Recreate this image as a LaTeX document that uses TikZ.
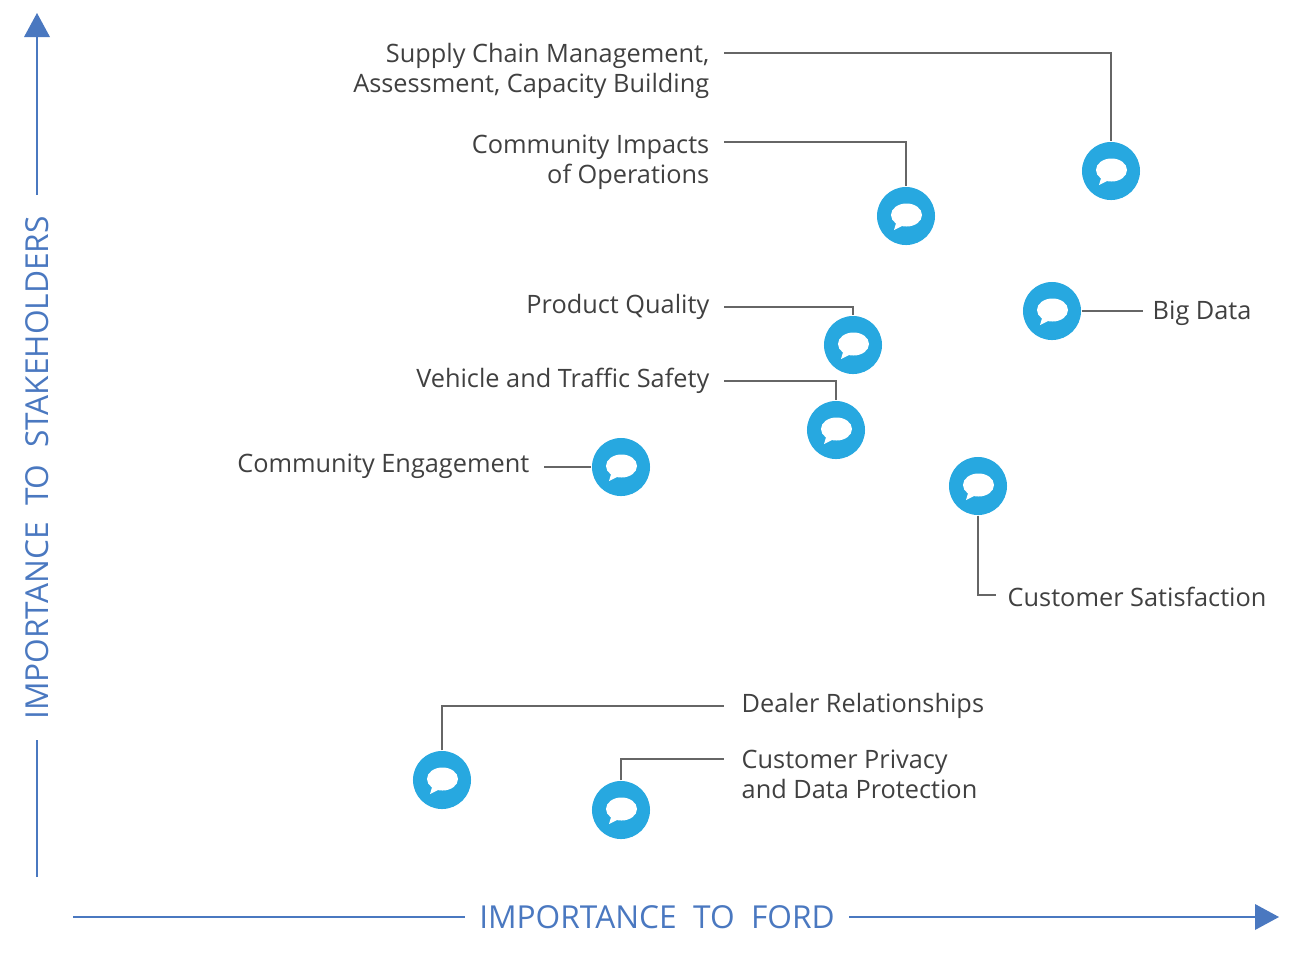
\documentclass[tikz,border=0pt]{standalone}
\usepackage{fontspec}
\setmainfont{Open Sans}
\begin{document}
\begin{tikzpicture}[x=0.01cm,y=-0.01cm,
  txt/.style={text=black!75,font=\fontsize{7.2pt}{8.5pt}\selectfont,inner sep=0pt},
  ln/.style={draw=black!60,line width=0.35pt}]
\definecolor{axc}{HTML}{4A78C0}
\definecolor{bc}{HTML}{27A8E0}
\tikzset{bub/.style={circle,fill=bc,minimum size=0.58cm,inner sep=0pt,
  path picture={\fill[white] ([xshift=0.005cm,yshift=0.01cm]path picture bounding box.center) ellipse (0.155cm and 0.115cm);
  \fill[white] ([xshift=-0.09cm,yshift=-0.04cm]path picture bounding box.center) -- ([xshift=-0.12cm,yshift=-0.14cm]path picture bounding box.center) -- ([xshift=-0.02cm,yshift=-0.09cm]path picture bounding box.center) -- cycle;}},
  ax/.style={draw=axc,line width=0.5pt}}
\useasboundingbox (0,0) rectangle (1296,960);
% axes
\coordinate (v0) at (37,877); \coordinate (v1) at (37,740); \coordinate (v2) at (37,195); \coordinate (v3) at (37,36);
\draw[ax] (v0)--(v1); \draw[ax] (v2)--(v3);
\fill[axc] (24,37)--(50,37)--(37,13)--cycle;
\node[rotate=90,text=axc,font=\fontsize{9pt}{10pt}\selectfont,inner sep=0pt] (yl) at (37,468) {IMPORTANCE\ \ TO\ \ STAKEHOLDERS};
\coordinate (h0) at (73,917); \coordinate (h1) at (465,917); \coordinate (h2) at (849,917); \coordinate (h3) at (1256,917);
\draw[ax] (h0)--(h1); \draw[ax] (h2)--(h3);
\fill[axc] (1255,904)--(1255,930)--(1279,917)--cycle;
\node[text=axc,font=\fontsize{9pt}{10pt}\selectfont,inner sep=0pt] (xl) at (657,917) {IMPORTANCE\ \ TO\ \ FORD};
% bubbles
\node[bub] (b1) at (1111,171) {};
\node[bub] (b2) at (906,216) {};
\node[bub] (b3) at (1052,311) {};
\node[bub] (b4) at (853,345) {};
\node[bub] (b5) at (836,430) {};
\node[bub] (b6) at (621,467) {};
\node[bub] (b7) at (978,486) {};
\node[bub] (b8) at (442,780) {};
\node[bub] (b9) at (621,810) {};
% labels
\node[txt,anchor=east,align=right] (t1) at (710,71) {Supply Chain Management,\\Assessment, Capacity Building};
\node[txt,anchor=east,align=right] (t2) at (710,162) {Community Impacts\\of Operations};
\node[txt,anchor=west] (t3) at (1152,313) {Big Data};
\node[txt,anchor=east] (t4) at (710,307) {Product Quality};
\node[txt,anchor=east] (t5) at (710,381) {Vehicle and Traffic Safety};
\node[txt,anchor=east] (t6) at (530,466) {Community Engagement};
\node[txt,anchor=west] (t7) at (1007,597) {Customer Satisfaction};
\node[txt,anchor=west] (t8) at (741,706) {Dealer Relationships};
\node[txt,anchor=west,align=left] (t9) at (741,774) {Customer Privacy\\and Data Protection};
% connectors
\coordinate (c1) at (724,53); \draw[ln] (c1) -| (b1.north);
\coordinate (c2) at (724,142); \draw[ln] (c2) -| (b2.north);
\coordinate (c4) at (724,307); \draw[ln] (c4) -| (b4.north);
\coordinate (c5) at (724,381); \draw[ln] (c5) -| (b5.north);
\coordinate (c6) at (544,467); \draw[ln] (c6) -- (b6.west);
\coordinate (c3) at (1143,311); \draw[ln] (b3.east) -- (c3);
\coordinate (c7) at (996,595); \draw[ln] (b7.south) |- (c7);
\coordinate (c8) at (724,706); \draw[ln] (b8.north) |- (c8);
\coordinate (c9) at (724,759); \draw[ln] (b9.north) |- (c9);
\end{tikzpicture}
\end{document}
